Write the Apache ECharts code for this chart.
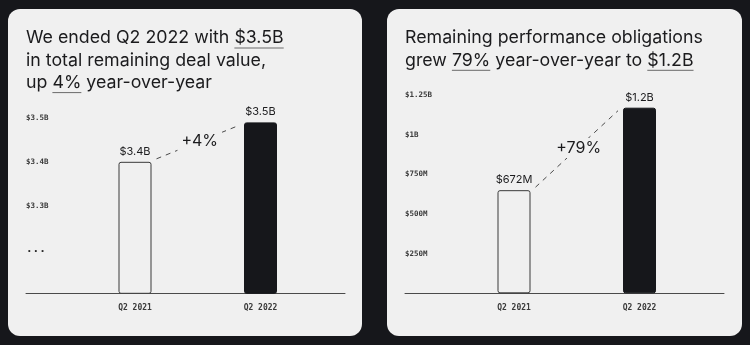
<!DOCTYPE html>
<html><head><meta charset="utf-8">
<script src="https://cdn.jsdelivr.net/npm/echarts@6/dist/echarts.min.js"></script>
<style>html,body{margin:0;padding:0;background:#16171b;}#c{width:750px;height:345px;}</style>
</head><body><div id="c"></div>
<script>
// ---- data ----
const categories = ['Q2 2021', 'Q2 2022'];
const dealValues = [3.40, 3.49];              // $B (axis broken below $3.2B)
const dealBarLabels = ['$3.4B', '$3.5B'];
const dealTickValues = [3.2, 3.3, 3.4, 3.5];
const dealTickLabels = ['{d|...}', '$3.3B', '$3.4B', '$3.5B'];
const dealChange = '+4%';
const rpoValues = [650, 1170];                // $M
const rpoBarLabels = ['$672M', '$1.2B'];
const rpoTickValues = [250, 500, 750, 1000, 1250];
const rpoTickLabels = ['$250M', '$500M', '$750M', '$1B', '$1.25B'];
const rpoChange = '+79%';
const dealTitle = [
  [['We ended Q2 2022 with ', 0], ['$3.5B', 1]],
  [['in total remaining deal value,', 0]],
  [['up ', 0], ['4%', 1], [' year-over-year', 0]]
];
const rpoTitle = [
  [['Remaining performance obligations', 0]],
  [['grew ', 0], ['79%', 1], [' year-over-year to ', 0], ['$1.2B', 1]]
];

// ---- style ----
const BG = '#16171b', CARD = '#f0f0f0', INK = '#1b1b1d';
const BAR_W = 33;
const TITLE_FONT = '400 17.8px Inter';
const MONO = '"DejaVu Sans Mono", monospace';

const ctx = document.createElement('canvas').getContext('2d');
ctx.font = TITLE_FONT;

function titleGraphics(lines, x0, middles, baseOffset) {
  const out = [];
  lines.forEach((segs, i) => {
    const full = segs.map(s => s[0]).join('');
    out.push({type: 'text', x: x0, y: middles[i], z: 10,
      style: {text: full, font: TITLE_FONT, fill: INK, align: 'left', verticalAlign: 'middle'}});
    let acc = '';
    segs.forEach(s => {
      if (s[1]) {
        const xs = x0 + ctx.measureText(acc).width;
        const xe = xs + ctx.measureText(s[0]).width;
        const yy = middles[i] + baseOffset;
        out.push({type: 'line', z: 10, shape: {x1: xs, y1: yy, x2: xe, y2: yy},
          style: {stroke: '#6a6a6a', lineWidth: 1}});
      }
      acc += s[0];
    });
  });
  return out;
}

function tickFormatter(vals, labels) {
  return v => {
    const i = vals.findIndex(t => Math.abs(t - v) < 1e-6);
    return i >= 0 ? labels[i] : '';
  };
}

function connector(values, label) {
  return function (params, api) {
    const p1 = api.coord([0, values[0]]);
    const p2 = api.coord([1, values[1]]);
    const hw = BAR_W / 2;
    const x1 = p1[0] + hw + 5, y1 = p1[1] - 3;
    const x2 = p2[0] - hw - 5, y2 = p2[1] + 3;
    return {type: 'group', children: [
      {type: 'line', shape: {x1, y1, x2, y2}, style: {stroke: '#4a4a4a', lineWidth: 1, lineDash: [5, 5]}},
      {type: 'text', x: (x1 + x2) / 2 + 2, y: (y1 + y2) / 2 - 1, style: {text: label, fill: INK,
        font: '400 16px Inter', align: 'center', verticalAlign: 'middle', backgroundColor: CARD, padding: [2, 4]}}
    ]};
  };
}

function barData(values) {
  return values.map((v, i) => ({value: v, itemStyle: i === 0
    ? {color: CARD, borderColor: '#3a3a3a', borderWidth: 1, borderRadius: 2}
    : {color: BG, borderColor: BG, borderWidth: 1, borderRadius: 2}}));
}

const axisGrid = (left, top, height) => ({left, top, width: 319, height});
const barGrid = (left, top, height) => ({left: left + 46.25, top, width: 251, height});

const yLabel = {inside: true, margin: 0, align: 'left', fontFamily: MONO, fontSize: 7.5, fontWeight: 'bold', color: '#3a3a3a',
  rich: {d: {fontFamily: MONO, fontSize: 11, fontWeight: 'bold', color: '#2a2a2a'}}};

const option = {
  backgroundColor: BG,
  animation: false,
  graphic: [
    {type: 'rect', z: -10, shape: {x: 8, y: 9, width: 354, height: 327, r: 12}, style: {fill: CARD}},
    {type: 'rect', z: -10, shape: {x: 387, y: 9, width: 355, height: 327, r: 12}, style: {fill: CARD}},
    ...titleGraphics(dealTitle, 26, [38, 60.3, 82.6], 10),
    ...titleGraphics(rpoTitle, 405, [38, 60.3], 10)
  ],
  grid: [
    axisGrid(26, 118, 175.3), barGrid(26, 118, 175.3),
    axisGrid(405, 95, 198.3), barGrid(405, 95, 198.3)
  ],
  xAxis: [
    {gridIndex: 0, type: 'category', data: categories, axisLabel: {show: false}, axisTick: {show: false},
      axisLine: {lineStyle: {color: '#4a4a4a', width: 1}}},
    {gridIndex: 1, type: 'category', data: categories, axisLine: {show: false}, axisTick: {show: false},
      axisLabel: {margin: 11, fontFamily: MONO, fontSize: 8, fontWeight: 'bold', color: '#3a3a3a'}},
    {gridIndex: 2, type: 'category', data: categories, axisLabel: {show: false}, axisTick: {show: false},
      axisLine: {lineStyle: {color: '#4a4a4a', width: 1}}},
    {gridIndex: 3, type: 'category', data: categories, axisLine: {show: false}, axisTick: {show: false},
      axisLabel: {margin: 11, fontFamily: MONO, fontSize: 8, fontWeight: 'bold', color: '#3a3a3a'}}
  ],
  yAxis: [
    {gridIndex: 0, type: 'value', min: 3.1, max: 3.5, interval: 0.1, splitLine: {show: false},
      axisLine: {show: false}, axisTick: {show: false},
      axisLabel: {...yLabel, formatter: tickFormatter(dealTickValues, dealTickLabels)}},
    {gridIndex: 1, type: 'value', min: 3.1, max: 3.5, interval: 0.1, show: false},
    {gridIndex: 2, type: 'value', min: 0, max: 1250, interval: 250, splitLine: {show: false},
      axisLine: {show: false}, axisTick: {show: false},
      axisLabel: {...yLabel, formatter: tickFormatter(rpoTickValues, rpoTickLabels)}},
    {gridIndex: 3, type: 'value', min: 0, max: 1250, interval: 250, show: false}
  ],
  series: [
    {type: 'bar', xAxisIndex: 1, yAxisIndex: 1, barWidth: BAR_W, data: barData(dealValues),
      label: {show: true, position: 'top', distance: 5, fontFamily: 'Inter', fontSize: 11, color: INK,
        formatter: p => dealBarLabels[p.dataIndex]}},
    {type: 'custom', xAxisIndex: 1, yAxisIndex: 1, data: [[0]], renderItem: connector(dealValues, dealChange), z: 5},
    {type: 'bar', xAxisIndex: 3, yAxisIndex: 3, barWidth: BAR_W, data: barData(rpoValues),
      label: {show: true, position: 'top', distance: 5, fontFamily: 'Inter', fontSize: 11, color: INK,
        formatter: p => rpoBarLabels[p.dataIndex]}},
    {type: 'custom', xAxisIndex: 3, yAxisIndex: 3, data: [[0]], renderItem: connector(rpoValues, rpoChange), z: 5}
  ]
};
echarts.init(document.getElementById('c')).setOption(option);
</script></body></html>
